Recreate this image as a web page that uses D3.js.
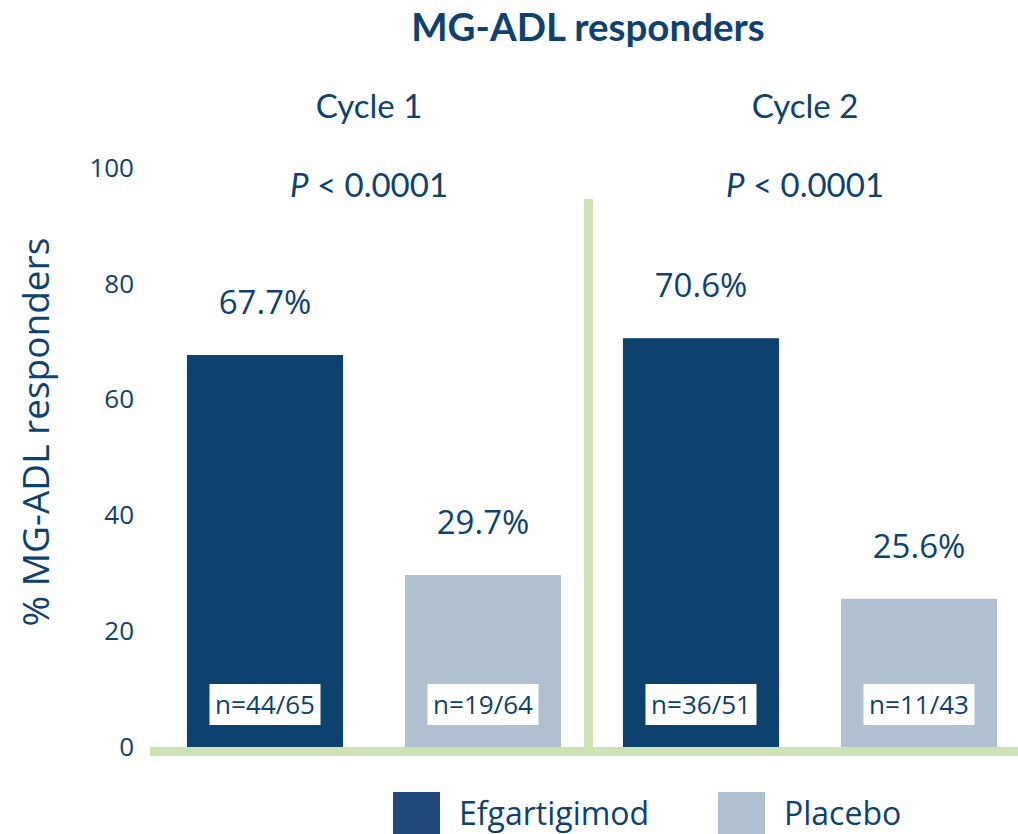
<!DOCTYPE html>
<html lang="en">

<head>
  <meta charset="UTF-8">
  <title>MG-ADL responders</title>
  <style>
    body {
      margin: 0;
      background: #fff;
    }
  </style>
</head>

<body>
  <script src="https://d3js.org/d3.v7.min.js"></script>
  <script>
    // data
    const cycles = ["Cycle 1", "Cycle 2"];
    const arms = ["Efgartigimod", "Placebo"];
    const pValues = ["0.0001", "0.0001"];
    const responders = [67.7, 29.7, 70.6, 25.6];
    const nLabels = ["n=44/65", "n=19/64", "n=36/51", "n=11/43"];
    const yTicks = [0, 20, 40, 60, 80, 100];

    const navy = "#0e426e";
    const barColor = { Efgartigimod: "#0e426e", Placebo: "#b0c0d1" };
    const legendColor = { Efgartigimod: "#21487a", Placebo: "#b0c0d1" };
    const green = "#cde2b5";
    const sans = "'Open Sans', sans-serif";
    const narrow = "Lato, sans-serif";

    const bars = [];
    cycles.forEach((c, i) => {
      arms.forEach((a, j) => {
        const k = i * arms.length + j;
        bars.push({ cycle: c, arm: a, value: responders[k], n: nLabels[k] });
      });
    });

    const svg = d3.select("body")
      .append("svg")
      .attr("width", 1018)
      .attr("height", 834);

    const x = d3.scaleBand()
      .domain(bars.map(d => d.cycle + "|" + d.arm))
      .range([156, 1028])
      .paddingInner(0.284)
      .paddingOuter(0.142);

    const y = d3.scaleLinear()
      .domain([0, 100])
      .range([747, 168]);

    const key = d => d.cycle + "|" + d.arm;
    const cycleCenter = c => {
      const xs = bars.filter(d => d.cycle === c).map(d => x(key(d)));
      return (d3.min(xs) + d3.max(xs) + x.bandwidth()) / 2 - 5;
    };

    // title
    svg.append("text")
      .attr("x", 588)
      .attr("y", 41)
      .attr("text-anchor", "middle")
      .attr("font-family", narrow)
      .attr("font-weight", "bold")
      .attr("font-size", 38.5)
      .attr("fill", navy)
      .text("MG-ADL responders");

    // y axis
    const yAxis = svg.append("g")
      .attr("transform", "translate(134,0)")
      .call(d3.axisLeft(y).tickValues(yTicks).tickSize(0).tickPadding(0));
    yAxis.select(".domain").remove();
    yAxis.selectAll("text")
      .attr("font-family", sans)
      .attr("font-size", 26)
      .attr("fill", navy);

    svg.append("text")
      .attr("transform", "translate(49,432) rotate(-90)")
      .attr("text-anchor", "middle")
      .attr("font-family", sans)
      .attr("font-size", 37)
      .attr("fill", navy)
      .text("% MG-ADL responders");

    // cycle headers and p values
    svg.selectAll(".cycle")
      .data(cycles)
      .join("text")
      .attr("class", "cycle")
      .attr("x", d => cycleCenter(d))
      .attr("y", 118)
      .attr("text-anchor", "middle")
      .attr("font-family", narrow)
      .attr("font-size", 33)
      .attr("fill", navy)
      .text(d => d);

    const pText = svg.selectAll(".pval")
      .data(cycles)
      .join("text")
      .attr("class", "pval")
      .attr("x", d => cycleCenter(d))
      .attr("y", 197)
      .attr("text-anchor", "middle")
      .attr("font-family", narrow)
      .attr("font-size", 33)
      .attr("fill", navy);
    pText.append("tspan").attr("font-style", "italic").text("P");
    pText.append("tspan").text((d, i) => " < " + pValues[i]);

    // bars
    svg.append("g")
      .selectAll("rect")
      .data(bars)
      .join("rect")
      .attr("x", d => x(key(d)))
      .attr("y", d => y(d.value))
      .attr("width", x.bandwidth())
      .attr("height", d => y(0) - y(d.value))
      .attr("fill", d => barColor[d.arm]);

    // value labels
    svg.append("g")
      .selectAll("text")
      .data(bars)
      .join("text")
      .attr("x", d => x(key(d)) + x.bandwidth() / 2)
      .attr("y", d => y(d.value) - 41)
      .attr("text-anchor", "middle")
      .attr("font-family", sans)
      .attr("font-size", 33)
      .attr("fill", navy)
      .text(d => d.value.toFixed(1) + "%");

    // n boxes
    const nBox = svg.append("g")
      .selectAll("g")
      .data(bars)
      .join("g")
      .attr("transform", d => `translate(${x(key(d)) + x.bandwidth() / 2},${y(0) - 43})`);
    nBox.append("rect")
      .attr("x", -55.5)
      .attr("y", -20)
      .attr("width", 111)
      .attr("height", 41)
      .attr("fill", "#fff");
    nBox.append("text")
      .attr("y", 9.5)
      .attr("text-anchor", "middle")
      .attr("font-family", sans)
      .attr("font-size", 26)
      .attr("fill", navy)
      .text(d => d.n);

    // green baseline and divider
    svg.append("rect")
      .attr("x", 150)
      .attr("y", y(0))
      .attr("width", 868)
      .attr("height", 9)
      .attr("fill", green);
    svg.append("rect")
      .attr("x", 584)
      .attr("y", 199)
      .attr("width", 9)
      .attr("height", y(0) - 199)
      .attr("fill", green);

    // legend
    const legendX = [393, 718];
    const lg = svg.append("g")
      .selectAll("g")
      .data(arms)
      .join("g")
      .attr("transform", (d, i) => `translate(${legendX[i]},792)`);
    lg.append("rect")
      .attr("width", 47)
      .attr("height", 42)
      .attr("fill", d => legendColor[d]);
    lg.append("text")
      .attr("x", 66)
      .attr("y", 33)
      .attr("font-family", sans)
      .attr("font-size", 32)
      .attr("fill", navy)
      .text(d => d);
  </script>
</body>

</html>
